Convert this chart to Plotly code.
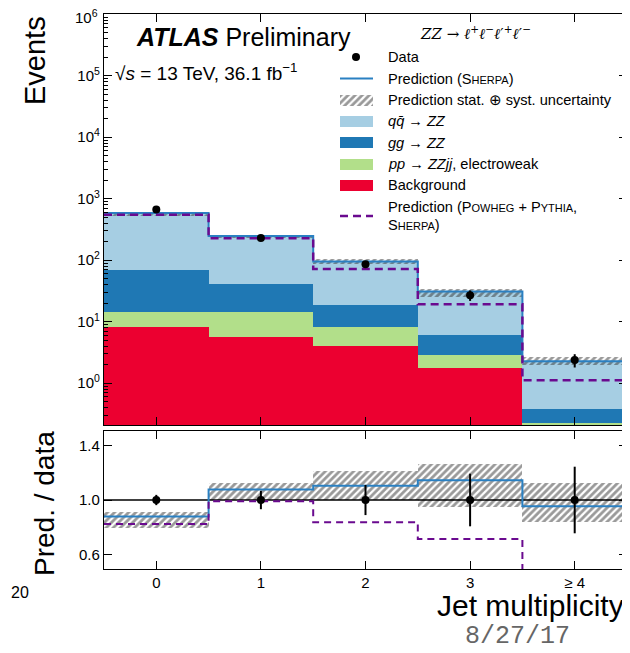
import plotly.graph_objects as go

# ---------------- data ----------------
bins = [0, 1, 2, 3, 4]
bin_labels = ["0", "1", "2", "3", "≥ 4"]
bin_edges = [-0.5, 0.5, 1.5, 2.5, 3.5, 4.5]
data = [665, 230, 86, 27, 2.38]
data_err = [25, 15.5, 9.5, 5.2, 0.58]
qq = [515, 207, 76.6, 24.75, 1.886]
gg = [55.5, 26.6, 10.2, 3.23, 0.159]
ew = [6.4, 8.6, 4.1, 1.16, 0.105]
bkg = [8.1, 5.6, 4.1, 1.76, 0.12]
powheg = [548, 228, 72, 19.3, 1.12]
unc_down = [0.097, 0.074, 0.095, 0.169, 0.123]
unc_up = [0.041, 0.046, 0.100, 0.105, 0.176]
major = [10 ** n for n in range(0, 7)]
major_txt = ["10<sup>%d</sup>" % n for n in range(0, 7)]

# ---------------- derived ----------------
c_bkg = bkg
c_ew = [a + b for a, b in zip(c_bkg, ew)]
c_gg = [a + b for a, b in zip(c_ew, gg)]
total = [a + b for a, b in zip(c_gg, qq)]
ratio = [t / d for t, d in zip(total, data)]
ratio_pow = [p / d for p, d in zip(powheg, data)]
data_rel = [e / d for e, d in zip(data_err, data)]

C_QQ = "#a6cee3"
C_GG = "#1f78b4"
C_EW = "#b2df8a"
C_BKG = "#ec0030"
C_LINE = "#2a80c2"
C_POW = "#6a0a8f"
HATCH = dict(shape="/", fgcolor="#333333", bgcolor="rgba(0,0,0,0)", size=5, solidity=0.55)
FONT = "Liberation Sans, Arial, sans-serif"

# page-pixel geometry of plot area (page body has an 8px margin)
OFF = 8
FIG_W, FIG_H = 630 - OFF, 653 - OFF
L, R, T, B = 104, 627, 14, 569
W, H = R - L, B - T
def xp(px):
    return (px - L) / W
def yp(py):
    return (B - py) / H

fig = go.Figure()

# ---- top panel stack (overlaid cumulative) ----
for vals, col in [(total, C_QQ), (c_gg, C_GG), (c_ew, C_EW), (c_bkg, C_BKG)]:
    fig.add_trace(go.Bar(x=bins, y=vals, width=1, marker=dict(color=col, line=dict(width=0)),
                         xaxis="x", yaxis="y", showlegend=False, hoverinfo="skip"))
fig.add_trace(go.Bar(x=bins, base=[t * (1 - d) for t, d in zip(total, unc_down)],
                     y=[t * (d + u) for t, d, u in zip(total, unc_down, unc_up)], width=1,
                     marker=dict(color="rgba(0,0,0,0)", line=dict(width=0), pattern=HATCH),
                     xaxis="x", yaxis="y", showlegend=False))
fig.add_trace(go.Scatter(x=bin_edges, y=total + [total[-1]], mode="lines", line_shape="hv",
                         line=dict(color=C_LINE, width=2), xaxis="x", yaxis="y", showlegend=False))
fig.add_trace(go.Scatter(x=bin_edges, y=powheg + [powheg[-1]], mode="lines", line_shape="hv",
                         line=dict(color=C_POW, width=2.5, dash="8px,5px"), xaxis="x", yaxis="y",
                         showlegend=False))
fig.add_trace(go.Scatter(x=bins, y=data, mode="markers", marker=dict(color="black", size=8),
                         error_y=dict(type="data", array=data_err, color="black", thickness=2, width=0),
                         xaxis="x", yaxis="y", showlegend=False))

# ---- ratio panel ----
fig.add_trace(go.Bar(x=bins, base=[r * (1 - d) for r, d in zip(ratio, unc_down)],
                     y=[r * (d + u) for r, d, u in zip(ratio, unc_down, unc_up)], width=1,
                     marker=dict(color="rgba(0,0,0,0)", line=dict(width=0), pattern=HATCH),
                     xaxis="x2", yaxis="y2", showlegend=False))
fig.add_trace(go.Scatter(x=[bin_edges[0], bin_edges[-1]], y=[1, 1], mode="lines",
                         line=dict(color="black", width=1.3), xaxis="x2", yaxis="y2", showlegend=False))
fig.add_trace(go.Scatter(x=bin_edges, y=ratio + [ratio[-1]], mode="lines", line_shape="hv",
                         line=dict(color=C_LINE, width=2), xaxis="x2", yaxis="y2", showlegend=False))
fig.add_trace(go.Scatter(x=bin_edges, y=ratio_pow + [ratio_pow[-1]], mode="lines", line_shape="hv",
                         line=dict(color=C_POW, width=2, dash="7px,5px"), xaxis="x2", yaxis="y2",
                         showlegend=False))
fig.add_trace(go.Scatter(x=bins, y=[1] * len(bins), mode="markers", marker=dict(color="black", size=8),
                         error_y=dict(type="data", array=data_rel, color="black", thickness=2, width=0),
                         xaxis="x2", yaxis="y2", showlegend=False))

# ---- hand-drawn legend on a pixel overlay axis ----
sx0, sx1 = 340, 373
scx = (sx0 + sx1) / 2
fig.add_trace(go.Scatter(x=[356], y=[57], mode="markers", marker=dict(color="black", size=8),
                         xaxis="x3", yaxis="y3", showlegend=False))
fig.add_trace(go.Scatter(x=[sx0, sx1], y=[78.5, 78.5], mode="lines", line=dict(color=C_LINE, width=2),
                         xaxis="x3", yaxis="y3", showlegend=False))
fig.add_trace(go.Bar(x=[scx], y=[11], base=[94.5], width=[sx1 - sx0],
                     marker=dict(color="rgba(0,0,0,0)", line=dict(width=0), pattern=HATCH),
                     xaxis="x3", yaxis="y3", showlegend=False))
for yc, col in [(121, C_QQ), (142.5, C_GG), (164, C_EW), (185, C_BKG)]:
    fig.add_trace(go.Bar(x=[scx], y=[11], base=[yc - 5.5], width=[sx1 - sx0],
                         marker=dict(color=col, line=dict(width=0)),
                         xaxis="x3", yaxis="y3", showlegend=False))
fig.add_trace(go.Scatter(x=[sx0, sx1], y=[216, 216], mode="lines",
                         line=dict(color=C_POW, width=2.5, dash="8px,5px"),
                         xaxis="x3", yaxis="y3", showlegend=False))

sc = "<span style='font-size:11px'>"
leg_texts = [
    (57, "Data"),
    (78.5, "Prediction (S" + sc + "HERPA</span>)"),
    (100, "Prediction stat. ⊕ syst. uncertainty"),
    (121, "<i>q</i><i>q̄</i> → <i>ZZ</i>"),
    (142.5, "<i>gg</i> → <i>ZZ</i>"),
    (164, "<i>pp</i> → <i>ZZjj</i>, electroweak"),
    (185, "Background"),
    (207, "Prediction (P" + sc + "OWHEG</span> + P" + sc + "YTHIA</span>,"),
    (225, "S" + sc + "HERPA</span>)"),
]
annotations = []
for yc, txt in leg_texts:
    annotations.append(dict(x=386, y=yc, xref="x3", yref="y3", text=txt, showarrow=False,
                            xanchor="left", yanchor="middle", font=dict(size=14.6, color="black", family=FONT)))
annotations.append(dict(x=475, y=33, xref="x3", yref="y3",
                        text="<i>ZZ</i> → <i>ℓ</i><sup>+</sup><i>ℓ</i><sup>−</sup><i>ℓ</i>′<sup>+</sup><i>ℓ</i>′<sup>−</sup>",
                        showarrow=False, xanchor="center", yanchor="middle",
                        font=dict(size=15, color="black", family="DejaVu Serif, serif")))
annotations.append(dict(x=134, y=37, xref="x3", yref="y3",
                        text="<b><i>ATLAS</i></b> Preliminary", showarrow=False, xanchor="left",
                        yanchor="middle", font=dict(size=25, color="black", family=FONT)))
annotations.append(dict(x=113, y=72, xref="x3", yref="y3",
                        text="√<i>s</i> = 13 TeV, 36.1 fb<sup>−1</sup>", showarrow=False, xanchor="left",
                        yanchor="middle", font=dict(size=19, color="black", family=FONT)))
# topmost decade label, nudged down as in the reference so it stays inside the page
annotations.append(dict(x=xp(100), y=yp(17), xref="paper", yref="paper", text=major_txt[-1],
                        showarrow=False, xanchor="right", yanchor="middle",
                        font=dict(size=15, color="black", family=FONT)))

annotations += [
    dict(x=xp(35), y=yp(61), xref="paper", yref="paper", text="Events", textangle=-90, showarrow=False,
         xanchor="center", yanchor="middle", font=dict(size=29, color="black", family=FONT)),
    dict(x=xp(44), y=yp(504), xref="paper", yref="paper", text="Pred. / data", textangle=-90,
         showarrow=False, xanchor="center", yanchor="middle", font=dict(size=28, color="black", family=FONT)),
    dict(x=xp(626), y=yp(605.5), xref="paper", yref="paper", text="Jet multiplicity", showarrow=False,
         xanchor="right", yanchor="middle", font=dict(size=30, color="black", family=FONT)),
    dict(x=xp(517), y=yp(636), xref="paper", yref="paper", text="8/27/17", showarrow=False,
         xanchor="center", yanchor="middle", font=dict(size=25, color="#666666", family="Liberation Mono, monospace")),
    dict(x=xp(8.5), y=yp(592), xref="paper", yref="paper", text="20", showarrow=False,
         xanchor="left", yanchor="middle", font=dict(size=16, color="black", family=FONT)),
]

minor_vals = [k * 10 ** n for n in range(-1, 6) for k in range(2, 10)]

axis_common = dict(showline=True, linecolor="black", linewidth=1.3, mirror="ticks", ticks="inside",
                   tickcolor="black", tickwidth=1.2, showgrid=False, zeroline=False, automargin=False)

top_dom = [yp(425), 1]
bot_dom = [0, yp(431)]

fig.update_layout(
    width=FIG_W, height=FIG_H,
    margin=dict(l=L - OFF, r=FIG_W - (R - OFF), t=T - OFF, b=FIG_H - (B - OFF), autoexpand=False),
    paper_bgcolor="white", plot_bgcolor="white",
    barmode="overlay", bargap=0,
    showlegend=False,
    font=dict(family=FONT, color="black"),
    xaxis=dict(domain=[0, 1], range=[-0.5, 4.5], anchor="y", tickvals=bins, showticklabels=False,
               ticklen=8, matches="x2", **axis_common),
    yaxis=dict(domain=top_dom, type="log", range=[-0.68, 6.004], anchor="x", tickvals=major,
               ticktext=major_txt[:-1] + [""], ticklen=8, tickfont=dict(size=15),
               minor=dict(tickmode="array", tickvals=minor_vals, ticks="inside", ticklen=4,
                          tickcolor="black", tickwidth=1, showgrid=False),
               **axis_common),
    xaxis2=dict(domain=[0, 1], range=[-0.5, 4.5], anchor="y2", tickvals=bins, ticktext=bin_labels,
                ticklen=8, tickfont=dict(size=15), **axis_common),
    yaxis2=dict(domain=bot_dom, range=[0.495, 1.505], anchor="x2", tickvals=[0.6, 1.0, 1.4],
                ticktext=["0.6", "1.0", "1.4"], ticklen=8, tickfont=dict(size=15), **axis_common),
    xaxis3=dict(overlaying="x", range=[L, R], anchor="y3", visible=False),
    yaxis3=dict(overlaying="y", range=[425, 14], anchor="x3", visible=False),
    annotations=annotations,
)

fig.write_html("out.html")
